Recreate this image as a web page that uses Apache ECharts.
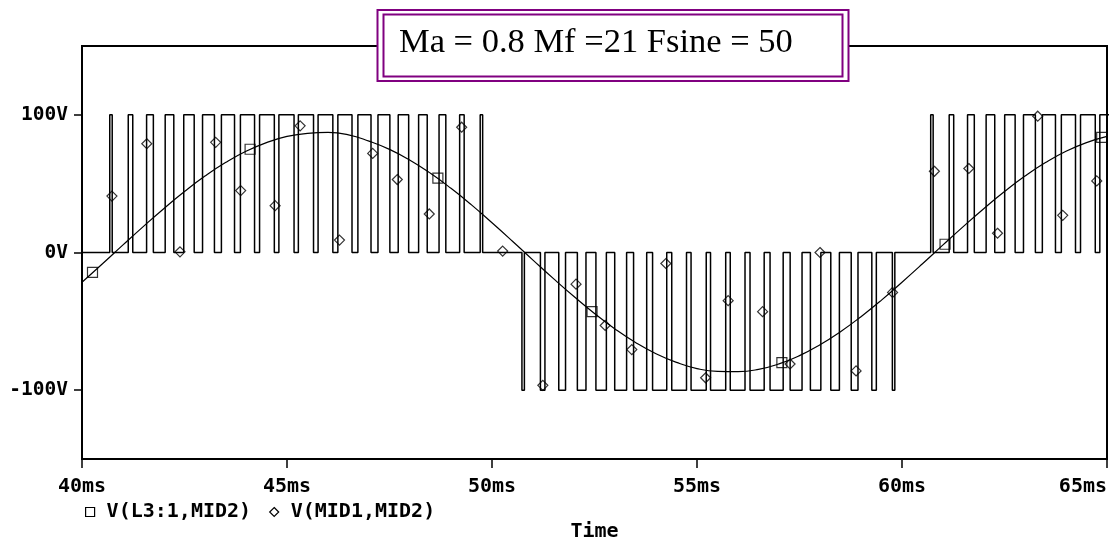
<!DOCTYPE html>
<html>
<head>
<meta charset="utf-8">
<script src="https://cdn.jsdelivr.net/npm/echarts@6/dist/echarts.min.js"></script>
<style>
html,body{margin:0;padding:0;background:#fff;}
#chart{width:1112px;height:541px;}
</style>
</head>
<body>
<div id="chart"></div>
<script>
// ---- data ----
const titleText = 'Ma = 0.8 Mf =21 Fsine = 50';
const seriesNames = ['V(L3:1,MID2)', 'V(MID1,MID2)'];
const xTickValues = [40, 45, 50, 55, 60, 65];
const xTickLabels = ['40ms', '45ms', '50ms', '55ms', '60ms', '65ms'];
const yTickValues = [-100, 0, 100];
const yTickLabels = ['-100V', '0V', '100V'];

// PWM output V(MID1,MID2): pulse centres (ms) per half cycle and pulse widths (ms)
const pwmLevel = 100;
const pos1Centers = [40.707, 41.183, 41.658, 42.134, 42.609, 43.085, 43.560, 44.036, 44.511, 44.987,
                     45.462, 45.938, 46.413, 46.889, 47.364, 47.840, 48.315, 48.791, 49.266, 49.742];
const negCenters  = [50.760, 51.236, 51.711, 52.187, 52.662, 53.138, 53.613, 54.089, 54.564, 55.040,
                     55.515, 55.991, 56.466, 56.942, 57.417, 57.893, 58.368, 58.844, 59.319, 59.795];
const pos2Centers = [60.730, 61.206, 61.681, 62.157, 62.632, 63.108, 63.583, 64.059, 64.534, 65.010];
const pulseWidths = [0.06, 0.11, 0.165, 0.21, 0.255, 0.29, 0.32, 0.345, 0.36, 0.37,
                     0.37, 0.36, 0.345, 0.32, 0.29, 0.255, 0.21, 0.165, 0.11, 0.06];

// filtered output V(L3:1,MID2)
const sineTime = [40.0,40.5,41.0,41.5,42.0,42.5,43.0,43.5,44.0,44.5,45.0,45.5,46.0,46.5,47.0,47.5,48.0,48.5,49.0,49.5,
                  50.0,50.5,51.0,51.5,52.0,52.5,53.0,53.5,54.0,54.5,55.0,55.5,56.0,56.5,57.0,57.5,58.0,58.5,59.0,59.5,
                  60.0,60.5,61.0,61.5,62.0,62.5,63.0,63.5,64.0,64.5,65.0];
const sineVolt = [-21.6,-8.2,5.5,19.0,32.0,44.3,55.5,65.3,73.5,79.8,84.3,86.6,87.2,85.5,80.9,74.9,67.0,57.5,46.6,34.6,
                  21.6,8.2,-5.5,-19.0,-32.0,-44.3,-55.5,-65.3,-73.5,-79.8,-84.3,-86.3,-86.5,-84.9,-80.9,-74.9,-67.0,-57.5,-46.6,-34.6,
                  -21.6,-8.2,5.5,19.0,32.0,44.3,55.5,65.3,73.5,79.8,84.3];

// marker positions
const squareTime = [40.256, 44.10, 48.68, 52.44, 57.07, 61.05, 64.87];
const squareVolt = [-14.5, 75, 54, -43, -80, 6, 83.6];
const diamondTime = [40.73, 41.58, 42.39, 43.26, 43.87, 44.71, 45.32, 46.28, 47.09, 47.69, 48.47, 49.26, 50.26,
                     51.24, 52.05, 52.76, 53.41, 54.24, 55.21, 55.76, 56.60, 57.27, 58.00, 58.88, 59.77,
                     60.79, 61.63, 62.33, 63.31, 63.92, 64.75];
const diamondVolt = [41, 79, 0.5, 80, 45, 34, 92, 9, 72, 53, 28, 91, 1,
                     -96.5, -23, -53, -70.5, -8, -91, -35, -43, -81, 0, -86, -29,
                     59, 61, 14, 99, 27, 52];

// ---- build series data ----
function buildPwm() {
  const pts = [[40, 0]];
  const add = (centers, sign) => centers.forEach((c, i) => {
    const w = pulseWidths[i];
    const a = c - w / 2, b = c + w / 2;
    pts.push([a, 0], [a, sign * pwmLevel], [b, sign * pwmLevel], [b, 0]);
  });
  add(pos1Centers, 1);
  add(negCenters, -1);
  add(pos2Centers, 1);
  pts.push([65.5, 0]);
  return pts;
}
const pwmData = buildPwm();
const sineData = sineTime.map((t, i) => [t, sineVolt[i]]);
const squareData = squareTime.map((t, i) => [t, squareVolt[i]]);
const diamondData = diamondTime.map((t, i) => [t, diamondVolt[i]]);

const monoFont = '"DejaVu Sans Mono", monospace';
const hollow = {color: 'rgba(255,255,255,0)', borderColor: '#000', borderWidth: 1.2};

const chart = echarts.init(document.getElementById('chart'), null, {renderer: 'canvas'});
chart.setOption({
  animation: false,
  backgroundColor: '#fff',
  grid: {left: 82, right: 5, top: 46, bottom: 82, containLabel: false, outerBoundsMode: 'none',
         show: true, borderColor: '#000', borderWidth: 2, backgroundColor: 'transparent'},
  legend: {
    left: 80, top: 497, itemWidth: 9, itemHeight: 9, itemGap: 18, selectedMode: false,
    data: [
      {name: seriesNames[0], icon: 'rect', itemStyle: hollow},
      {name: seriesNames[1], icon: 'diamond', itemStyle: hollow}
    ],
    textStyle: {fontFamily: monoFont, fontWeight: 'bold', fontSize: 20, color: '#000', padding: [0, 0, 0, 7]}
  },
  xAxis: {
    type: 'value', min: 40, max: 65, interval: 5,
    name: 'Time', nameLocation: 'middle', nameGap: 63,
    nameTextStyle: {fontFamily: monoFont, fontWeight: 'bold', fontSize: 20, color: '#000'},
    axisLine: {show: true, onZero: false, lineStyle: {color: '#000', width: 2}},
    axisTick: {show: true, inside: false, length: 9, lineStyle: {color: '#000', width: 1.5}},
    axisLabel: {
      margin: 18, color: '#000', fontFamily: monoFont, fontWeight: 'bold', fontSize: 20,
      alignMaxLabel: 'right',
      formatter: v => { const i = xTickValues.indexOf(v); return i >= 0 ? xTickLabels[i] : ''; }
    },
    splitLine: {show: false}
  },
  yAxis: {
    type: 'value', min: -150, max: 150, interval: 50,
    axisLine: {show: true, onZero: false, lineStyle: {color: '#000', width: 2}},
    axisTick: {show: true, inside: false, length: 8, customValues: yTickValues, lineStyle: {color: '#000', width: 1.5}},
    axisLabel: {
      margin: 14, color: '#000', fontFamily: monoFont, fontWeight: 'bold', fontSize: 19.5,
      customValues: yTickValues,
      formatter: v => { const i = yTickValues.indexOf(v); return i >= 0 ? yTickLabels[i] : ''; }
    },
    splitLine: {show: false}
  },
  series: [
    {name: seriesNames[0], type: 'line', data: sineData, smooth: true, showSymbol: false, symbol: 'none',
     lineStyle: {color: '#000', width: 1.2}, itemStyle: {color: '#000'}, z: 3},
    {name: seriesNames[1], type: 'line', data: pwmData, showSymbol: false, symbol: 'none',
     lineStyle: {color: '#000', width: 1.5}, itemStyle: {color: '#000'}, z: 2, clip: true},
    {name: 'sqMarks', type: 'scatter', data: squareData, symbol: 'rect', symbolSize: 10,
     itemStyle: hollow, z: 5, silent: true},
    {name: 'dmMarks', type: 'scatter', data: diamondData, symbol: 'diamond', symbolSize: [10, 10],
     itemStyle: hollow, z: 5, silent: true}
  ],
  graphic: [
    {type: 'rect', z: 100, shape: {x: 377.5, y: 10, width: 471, height: 71},
     style: {fill: '#fff', stroke: '#800080', lineWidth: 2}},
    {type: 'rect', z: 101, shape: {x: 383.5, y: 14.5, width: 459, height: 62},
     style: {fill: 'none', stroke: '#800080', lineWidth: 2}},
    {type: 'text', z: 102, x: 399, y: 43,
     style: {text: titleText, font: '34.5px "Liberation Serif", "Times New Roman", serif', fill: '#000',
             textAlign: 'left', textVerticalAlign: 'middle'}}
  ]
});
</script>
</body>
</html>
